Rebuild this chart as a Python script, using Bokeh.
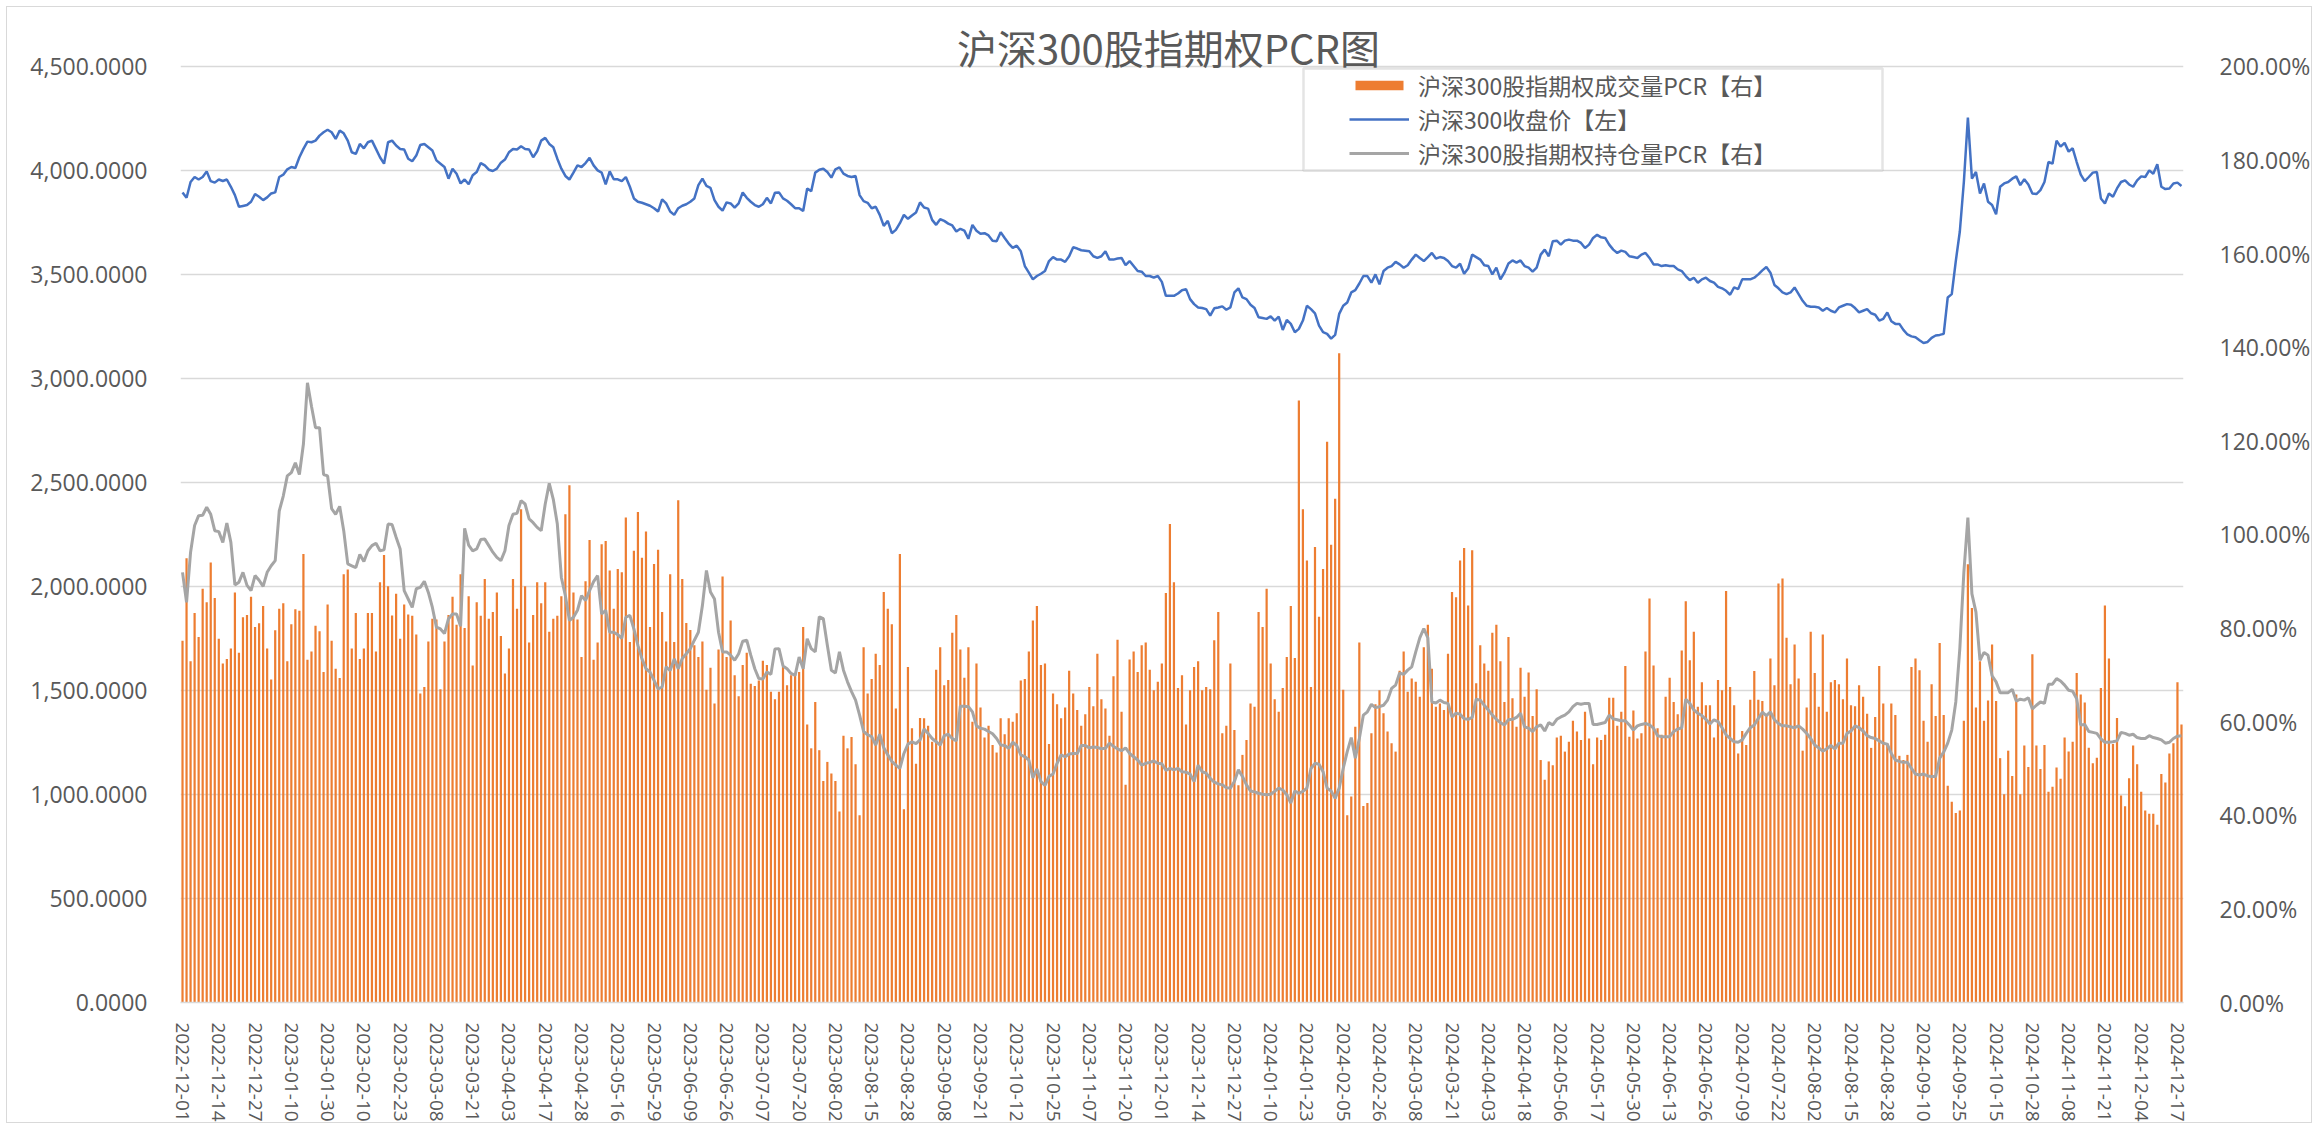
from bokeh.plotting import figure
from bokeh.models import (Range1d, LinearAxis, FixedTicker, NumeralTickFormatter,
                          Legend, LegendItem, ColumnDataSource, Label, BoxAnnotation)
from bokeh.embed import file_html
from bokeh.resources import INLINE

# ---------------- data ----------------
tick_labels = [
    "2022-12-01", "2022-12-14", "2022-12-27", "2023-01-10", "2023-01-30", "2023-02-10",
    "2023-02-23", "2023-03-08", "2023-03-21", "2023-04-03", "2023-04-17", "2023-04-28",
    "2023-05-16", "2023-05-29", "2023-06-09", "2023-06-26", "2023-07-07", "2023-07-20",
    "2023-08-02", "2023-08-15", "2023-08-28", "2023-09-08", "2023-09-21", "2023-10-12",
    "2023-10-25", "2023-11-07", "2023-11-20", "2023-12-01", "2023-12-14", "2023-12-27",
    "2024-01-10", "2024-01-23", "2024-02-05", "2024-02-26", "2024-03-08", "2024-03-21",
    "2024-04-03", "2024-04-18", "2024-05-06", "2024-05-17", "2024-05-30", "2024-06-13",
    "2024-06-26", "2024-07-09", "2024-07-22", "2024-08-02", "2024-08-15", "2024-08-28",
    "2024-09-10", "2024-09-25", "2024-10-15", "2024-10-28", "2024-11-08", "2024-11-21",
    "2024-12-04", "2024-12-17",
]
label_step = 9  # one label every 9 trading days

# 沪深300股指期权成交量PCR (%), right axis
volume_pcr = [
    77.3, 94.9, 72.9, 83.2, 78.1, 88.4, 85.5, 94.0, 86.4, 77.7,
    72.4, 73.4, 75.6, 87.6, 74.7, 82.3, 82.8, 86.7, 80.2, 81.0,
    84.7, 75.6, 69.0, 79.5, 84.1, 85.3, 72.9, 80.8, 84.0, 83.7,
    95.8, 73.2, 75.0, 80.5, 79.3, 70.6, 85.0, 77.3, 71.3, 69.3,
    91.5, 92.5, 75.6, 83.2, 73.4, 75.6, 83.2, 83.2, 75.0, 89.8,
    95.6, 88.9, 82.7, 87.3, 77.7, 85.0, 82.9, 82.6, 78.6, 66.0,
    67.4, 77.1, 82.0, 81.8, 66.9, 77.1, 82.8, 86.7, 80.7, 91.5,
    80.0, 86.8, 72.0, 85.5, 82.6, 90.5, 82.0, 83.4, 87.6, 78.3,
    70.3, 75.6, 90.5, 84.1, 105.4, 88.9, 76.9, 82.8, 89.8, 85.3,
    89.8, 79.2, 82.0, 82.6, 86.8, 104.3, 110.5, 87.6, 81.8, 73.8,
    90.0, 98.8, 73.2, 76.9, 97.9, 98.6, 92.3, 84.1, 92.6, 91.9,
    103.6, 77.0, 96.5, 104.8, 95.0, 100.6, 80.2, 93.7, 96.7, 83.4,
    77.1, 91.5, 77.0, 107.3,
    90.5, 81.1, 79.6, 76.3, 73.8, 77.1, 66.8, 71.5, 63.9, 75.4,
    91.0, 73.8, 81.6, 69.9, 65.4, 72.1, 74.7, 68.1, 67.6, 68.8,
    73.0, 72.1, 66.4, 64.8, 66.4, 71.7, 67.8, 69.9, 70.3, 70.6,
    80.2, 59.4, 54.3, 64.2, 53.9, 47.3, 51.4, 48.9, 47.3, 40.8,
    57.0, 54.3, 56.7, 50.9, 40.0, 75.9, 66.0, 69.1, 74.5, 72.1,
    87.7, 84.1, 80.8, 62.8, 95.8, 41.3, 71.7, 58.6, 51.0, 60.8,
    60.7, 59.1, 55.7, 71.1, 75.9, 67.8, 68.9, 79.0, 82.8, 75.4,
    69.4, 75.9, 60.0, 72.4, 63.0, 56.6, 59.1, 55.0, 53.4, 60.7,
    57.3, 60.7, 60.0, 61.8, 68.8, 69.1, 75.0, 81.6, 84.7, 72.1,
    72.4, 55.2, 66.0, 63.7, 60.7, 63.0, 70.9, 66.0, 62.5, 59.1,
    61.6, 67.4, 63.3, 74.5, 64.8, 62.8, 57.0, 69.7, 77.5, 62.1,
    46.5, 73.3, 75.0, 70.6, 76.3, 76.9, 71.1, 66.7, 68.5, 72.4,
    87.5, 102.2, 89.8, 67.2,
    69.9, 59.4, 66.7, 71.7, 72.9, 66.7, 67.4, 66.9, 77.4, 83.4,
    57.5, 59.1, 72.4, 58.2, 46.4, 52.9, 56.1, 63.9, 63.2, 83.4,
    80.2, 88.4, 72.4, 64.8, 62.1, 67.2, 73.8, 84.7, 73.6, 128.6,
    105.4, 94.4, 67.4, 97.3, 82.4, 92.6, 119.8, 97.8, 107.6, 138.7,
    66.8, 40.0, 44.0, 58.9, 76.9, 42.0, 42.6, 57.5, 63.7, 66.7,
    61.8, 57.9, 55.4, 53.6, 70.9, 75.0, 66.4, 69.2, 68.5, 65.3,
    75.9, 80.7, 71.3, 63.2, 63.9, 62.5, 74.5, 87.7, 86.6, 94.4,
    97.1, 84.8, 96.6, 68.2, 76.3, 72.4, 70.9, 79.0, 80.7, 72.9,
    64.2, 78.1, 65.0, 58.9, 71.5, 65.3, 70.5, 61.2, 66.9, 51.8,
    47.6, 51.5, 50.7, 56.6, 57.0, 53.6, 55.7, 60.2, 57.9, 56.1,
    62.1, 56.4, 50.9, 56.6, 56.1, 57.2, 65.1, 65.1, 59.1, 62.1,
    71.9, 56.8, 62.4, 56.4, 57.5, 75.0, 86.3, 72.0, 58.6, 57.2,
    65.3, 69.4, 64.2, 61.6,
    75.2, 85.7, 73.1, 79.2, 63.2, 68.4, 63.5, 63.5, 56.6, 68.9,
    66.7, 87.9, 67.4, 63.5, 53.2, 58.0, 55.0, 64.7, 70.8, 64.7,
    64.4, 61.5, 73.5, 67.8, 89.5, 90.6, 77.9, 68.0, 76.5, 69.2,
    53.8, 63.0, 79.2, 70.4, 63.2, 78.6, 62.1, 68.4, 68.9, 68.0,
    64.8, 73.5, 63.5, 63.3, 67.8, 65.3, 61.7, 54.4, 61.0, 71.9,
    63.9, 55.4, 63.9, 61.4, 52.7, 51.8, 52.9, 71.7, 73.5, 71.0,
    60.2, 55.7, 68.0, 61.2, 76.8, 61.4, 46.3, 42.9, 40.5, 41.0,
    60.2, 93.6, 84.3, 63.0, 72.9, 60.2, 64.5, 76.5, 64.4, 52.2,
    44.5, 53.8, 48.4, 65.8, 44.5, 54.9, 50.3, 74.4, 54.9, 49.9,
    55.0, 45.0, 46.1, 50.2, 47.8, 56.6, 53.6, 55.7, 70.4, 65.8,
    64.1, 54.4, 51.1, 52.3, 67.2, 84.8, 73.5, 55.2, 60.8, 44.2,
    41.9, 47.9, 54.9, 50.9, 45.0, 41.0, 40.3, 40.3, 38.0, 48.8,
    47.0, 53.2, 55.4, 68.4, 59.4,
]

# 沪深300收盘价, left axis
close_price = [
    3894, 3868, 3944, 3968, 3956, 3968, 3995, 3948, 3941,
    3956, 3949, 3956, 3921, 3881, 3825, 3829, 3833, 3849,
    3886, 3873, 3857, 3870, 3889, 3894, 3968, 3979, 4005,
    4016, 4011, 4063, 4103, 4138, 4135, 4143, 4167, 4183,
    4195, 4183, 4151, 4191, 4178, 4143, 4087, 4079, 4127,
    4106, 4135, 4143, 4103, 4063, 4032, 4135, 4143, 4119,
    4103, 4100, 4056, 4044, 4071, 4122, 4127, 4111, 4095,
    4048, 4032, 4016, 3960, 4008, 3984, 3937, 3956, 3933,
    3976, 3992, 4035, 4024, 4003, 3997, 4008, 4037, 4052,
    4087, 4103, 4100, 4116, 4103, 4100, 4063, 4092, 4143,
    4156, 4127, 4111, 4056, 4008, 3973, 3956, 3989, 4024,
    4016, 4035, 4060, 4024, 4000, 3989, 3933, 3995, 3957,
    3957, 3948, 3968, 3921, 3865, 3849, 3844, 3837, 3830,
    3818, 3802, 3860, 3841, 3802, 3786, 3818, 3830, 3837,
    3849, 3865, 3929, 3960, 3925, 3916, 3857, 3825, 3806,
    3846, 3841, 3821, 3841, 3894, 3868, 3849, 3833, 3825,
    3837, 3868, 3841, 3892, 3894, 3865, 3854, 3837, 3818,
    3818, 3805, 3913, 3900, 3989, 4003, 4008, 3992, 3965,
    4005, 4014, 3984, 3973, 3968, 3973, 3881, 3852, 3844,
    3818, 3825, 3786, 3733, 3757, 3698, 3714, 3746, 3786,
    3767, 3783, 3797, 3846, 3821, 3816, 3762, 3738, 3765,
    3757, 3744, 3735, 3706, 3719, 3710, 3671, 3738, 3710,
    3695, 3698, 3687, 3662, 3659, 3703, 3675, 3648, 3627,
    3638, 3611, 3540, 3508, 3476, 3492, 3503, 3516, 3564, 3583,
    3571, 3571, 3560, 3587, 3630, 3624, 3616, 3614, 3611, 3587,
    3579, 3587, 3611, 3571, 3571, 3576, 3579, 3544, 3564, 3540,
    3516, 3513, 3492, 3492, 3484, 3492, 3464, 3397, 3397, 3397,
    3408, 3424,
    3429, 3381, 3357, 3341, 3338, 3333, 3302, 3337, 3341, 3346,
    3330, 3341, 3413, 3433, 3389, 3381, 3354, 3338, 3294, 3290,
    3286, 3298, 3278, 3297, 3233, 3281, 3262, 3222, 3238,
    3278, 3349, 3333, 3313, 3254, 3222, 3214, 3191, 3209, 3310,
    3349, 3365, 3413, 3424, 3456, 3492, 3492, 3460, 3500, 3452,
    3516, 3532, 3540, 3560, 3548, 3532, 3544, 3571, 3595, 3579,
    3564, 3583, 3603, 3576, 3583, 3579, 3564, 3540, 3532, 3551,
    3503, 3528, 3595, 3583, 3571, 3544, 3540, 3500, 3532, 3476,
    3508, 3552, 3567, 3556, 3567, 3540, 3532, 3513, 3532, 3595,
    3619, 3587, 3659, 3662, 3643, 3662, 3667, 3662, 3662, 3651,
    3627, 3643, 3675, 3690, 3678, 3675, 3643, 3619, 3603, 3614,
    3608, 3587, 3583, 3579, 3595, 3603, 3579, 3548, 3548,
    3540, 3544, 3540, 3540, 3524, 3516, 3492, 3472, 3484, 3460,
    3476, 3484, 3468, 3460, 3440, 3433, 3421, 3402, 3437, 3429,
    3476, 3476, 3476, 3484, 3500, 3519, 3535, 3508, 3449, 3433,
    3413, 3405, 3413, 3437, 3405, 3373, 3349, 3344, 3344,
    3341, 3325, 3338, 3325, 3317, 3341, 3349, 3357, 3354, 3338,
    3317, 3325, 3333, 3313, 3306, 3278, 3286, 3317, 3275, 3262,
    3262, 3233, 3211, 3202, 3198, 3183, 3170, 3175, 3195, 3206,
    3209, 3214, 3389, 3405, 3564, 3706, 3944, 4254, 3960, 3992,
    3889, 3937, 3849, 3833, 3789, 3921, 3937, 3944, 3960, 3971,
    3929, 3957, 3932, 3889, 3886, 3905, 3944, 4040, 4032,
    4143, 4114, 4132, 4090, 4106, 4040, 3979, 3948, 3968, 3989,
    3992, 3865, 3841, 3889, 3873, 3913, 3944, 3952, 3932,
    3921, 3952, 3971, 3968, 4000, 3984, 4029, 3921, 3910, 3913,
    3937, 3941, 3925,
]

# 沪深300股指期权持仓量PCR (%), right axis
oi_pcr = [
    91.9, 85.5, 96.2, 101.9, 104.0, 104.1, 105.8, 104.3, 100.8, 100.6,
    98.3, 102.4, 98.3, 89.2, 89.8, 91.9, 89.1, 88.0, 91.2, 90.2,
    88.9, 91.9, 93.3, 94.4, 105.0, 108.2, 112.5, 113.2, 115.3, 112.8,
    119.3, 132.4, 127.4, 122.8, 122.8, 112.8, 112.5, 105.5, 104.3, 106.0,
    100.8, 93.7, 93.3, 92.9, 95.7, 94.2, 96.5, 97.6, 98.1, 96.5,
    96.7, 102.2, 102.1, 99.4, 96.9, 88.0, 86.2, 84.4, 88.4, 88.7,
    90.0, 87.6, 84.4, 80.2, 79.8, 78.8, 82.0, 83.0, 83.0, 80.4,
    101.3, 97.7, 96.5, 96.9, 98.9, 99.0, 97.6, 96.2, 95.1, 94.4,
    96.5, 101.9, 104.3, 104.5, 107.2, 106.5, 103.3, 102.5, 101.5, 100.8,
    106.5, 110.9, 107.5, 102.2, 90.8, 86.9, 81.6, 82.3, 83.8, 86.9,
    85.9, 88.0, 89.9, 91.2, 83.0, 83.8, 79.1, 79.1, 78.6, 77.8,
    82.3, 82.7, 79.8, 76.3, 73.4, 71.3, 70.6, 68.8, 67.0, 67.4,
    71.7, 70.9, 73.4, 71.3,
    73.5, 74.5, 75.6, 77.4, 79.1, 84.8, 92.3, 87.7, 86.2, 79.1,
    74.9, 74.9, 74.2, 73.1, 74.5, 77.2, 77.4, 74.2, 71.3, 69.2,
    69.1, 70.6, 70.1, 75.5, 75.6, 71.9, 71.3, 70.3, 69.9, 73.8,
    71.3, 77.7, 75.6, 74.9, 82.4, 82.0, 76.3, 71.0, 70.4, 74.9,
    71.0, 68.5, 66.4, 64.6, 61.4, 57.9, 57.2, 56.8, 55.0, 57.3,
    54.4, 52.9, 51.5, 50.7, 50.0, 53.2, 55.2, 55.7, 55.3, 56.1,
    58.4, 57.5, 56.4, 55.7, 55.0, 57.0, 57.3, 56.4, 55.9, 63.3,
    63.3, 63.2, 62.1, 59.1, 58.6, 58.4, 57.9, 57.4, 56.4, 55.0,
    54.9, 54.3, 55.6, 54.9, 52.9, 52.5, 51.8, 48.0, 49.9, 47.2,
    46.4, 48.3, 48.8, 51.1, 52.9, 52.5, 53.1, 53.2, 53.2, 54.9,
    54.9, 54.4, 54.6, 54.5, 54.2, 54.3, 55.4, 54.7, 54.2, 53.8,
    54.4, 53.2, 52.5, 51.8, 50.7, 51.1, 51.3, 51.6, 51.1, 51.0,
    49.6, 50.0, 49.7, 50.0,
    49.3, 49.2, 48.8, 47.2, 50.7, 49.3, 49.0, 47.9, 47.1, 46.7,
    46.5, 45.9, 45.8, 47.2, 49.7, 48.3, 46.5, 45.2, 45.0, 44.7,
    44.5, 44.4, 44.5, 45.1, 45.8, 45.4, 44.4, 42.6, 45.2, 44.7,
    45.1, 45.8, 50.0, 51.1, 50.9, 49.3, 45.8, 45.2, 43.6, 45.8,
    50.0, 53.6, 56.6, 52.2, 56.4, 61.4, 62.1, 63.7, 63.0, 63.2,
    63.5, 64.6, 67.1, 67.8, 70.4, 70.1, 71.0, 71.7, 74.9, 77.9,
    79.9, 77.9, 64.2, 64.0, 64.6, 64.1, 63.9, 61.0, 61.8, 61.6,
    60.6, 60.5, 60.9, 64.8, 64.6, 63.5, 62.5, 61.4, 60.5, 59.8,
    59.3, 60.4, 60.5, 60.9, 61.8, 58.9, 58.6, 57.9, 58.9, 59.3,
    58.0, 59.8, 59.3, 60.5, 61.0, 61.4, 62.1, 63.2, 63.9, 63.7,
    63.9, 63.9, 59.4, 59.4, 59.6, 59.8, 61.4, 60.6, 60.4, 60.2,
    60.2, 59.3, 58.2, 59.1, 59.4, 59.6, 59.3, 58.6, 57.0, 56.8,
    56.8, 56.8, 57.9, 58.4,
    58.7, 64.8, 63.9, 62.5, 61.8, 61.3, 60.5, 59.5, 60.4, 60.0,
    58.7, 57.2, 56.4, 55.7, 55.6, 56.1, 57.5, 58.7, 59.3, 60.7,
    62.0, 61.3, 62.1, 60.4, 59.6, 59.1, 59.1, 58.9, 58.7, 59.1,
    58.4, 57.5, 56.4, 55.0, 54.4, 53.7, 54.2, 54.9, 54.2, 55.4,
    55.4, 57.5, 58.0, 59.1, 58.7, 58.0, 57.0, 56.6, 56.4, 55.9,
    55.4, 55.2, 53.2, 51.8, 51.5, 51.3, 51.3, 50.0, 48.8, 48.6,
    48.8, 48.4, 48.3, 48.3, 52.2, 53.5, 55.4, 58.2, 64.2, 75.6,
    91.9, 103.6, 87.3, 83.4, 73.1, 74.8, 74.2, 69.8, 68.5, 66.2,
    66.2, 66.2, 66.9, 64.4, 64.8, 64.6, 65.1, 62.7, 63.5, 64.2,
    63.9, 68.0, 68.0, 69.2, 68.7, 67.8, 66.7, 66.5, 64.9, 59.3,
    59.4, 57.9, 57.7, 57.5, 56.3, 55.6, 55.6, 55.7, 55.9, 57.7,
    57.5, 57.1, 57.3, 56.6, 56.4, 56.4, 57.0, 56.6, 56.4, 56.1,
    55.4, 55.6, 56.4, 56.9, 57.0,
]

series_names = ["沪深300股指期权成交量PCR【右】", "沪深300收盘价【左】", "沪深300股指期权持仓量PCR【右】"]
title_text = "沪深300股指期权PCR图"
left_max, left_step = 4500, 500
right_max, right_step = 2.0, 0.2

# ---------------- layout (pixels) ----------------
n = len(volume_pcr)
MARGIN_L, MARGIN_T = 6, 6          # css margin of the chart box
W, H = 2306, 1117                  # canvas size
CANVAS_X0, CANVAS_Y0 = MARGIN_L + 1, MARGIN_T + 1   # after 1px border
FRAME_L, FRAME_R, PLOT_T, FRAME_B = 180, 2187, 66, 1005
B_LEFT = FRAME_L - CANVAS_X0
B_RIGHT = CANVAS_X0 + W - FRAME_R
B_BOTTOM = CANVAS_Y0 + H - FRAME_B
frame_h = H - B_BOTTOM                      # frame starts at canvas top
plot_h = FRAME_B - PLOT_T                   # height of 0..4500
top_factor = frame_h / plot_h               # extra room above 4500 for title

TXT = "#595959"
GRID = "#D9D9D9"
NUM_FONT = "Open Sans"
CJK_FONT = "Noto Sans CJK SC"

p = figure(width=W, height=H, output_backend="svg", toolbar_location=None,
           x_range=Range1d(-0.5, n - 0.5),
           y_range=Range1d(0, left_max * top_factor),
           min_border_left=B_LEFT, min_border_right=B_RIGHT,
           min_border_top=0, min_border_bottom=B_BOTTOM)
p.styles = {"border": "1px solid #D9D9D9",
            "margin-left": f"{MARGIN_L}px", "margin-top": f"{MARGIN_T}px"}
p.extra_y_ranges = {"pct": Range1d(0, right_max * top_factor)}
p.outline_line_color = None
p.background_fill_color = "white"
p.border_fill_color = "white"

bar_src = ColumnDataSource(dict(x=list(range(len(volume_pcr))),
                                y=[v / 100.0 for v in volume_pcr]))
close_src = ColumnDataSource(dict(x=list(range(len(close_price))), y=close_price))
oi_src = ColumnDataSource(dict(x=list(range(len(oi_pcr))),
                               y=[v / 100.0 for v in oi_pcr]))

r_bar = p.vbar(x="x", top="y", width=0.55, source=bar_src, y_range_name="pct",
               fill_color="#ED7D31", line_color=None)
r_oi = p.line(x="x", y="y", source=oi_src, y_range_name="pct",
              line_color="#A5A5A5", line_width=3)
r_close = p.line(x="x", y="y", source=close_src, line_color="#4472C4", line_width=2.5)

# left axis
ly = p.yaxis[0]
ly.ticker = FixedTicker(ticks=list(range(0, left_max + 1, left_step)))
ly.formatter = NumeralTickFormatter(format="0,0.0000")
ly.axis_line_color = None
ly.major_tick_line_color = None
ly.minor_tick_line_color = None
ly.major_label_text_font = NUM_FONT
ly.major_label_text_font_size = "23px"
ly.major_label_text_color = TXT
ly.major_label_standoff = 27

# right axis
ry = LinearAxis(y_range_name="pct",
                ticker=FixedTicker(ticks=[round(i * right_step, 2) for i in range(11)]),
                formatter=NumeralTickFormatter(format="0.00%"))
ry.axis_line_color = None
ry.major_tick_line_color = None
ry.minor_tick_line_color = None
ry.major_label_text_font = NUM_FONT
ry.major_label_text_font_size = "23px"
ry.major_label_text_color = TXT
ry.major_label_standoff = 30
p.add_layout(ry, "right")

# bottom axis
bx = p.xaxis[0]
tick_pos = [i * label_step for i in range(len(tick_labels))]
bx.ticker = FixedTicker(ticks=tick_pos)
bx.major_label_overrides = {t: lab for t, lab in zip(tick_pos, tick_labels)}
bx.major_label_orientation = "vertical"
bx.major_label_text_font = NUM_FONT
bx.major_label_text_font_size = "19px"
bx.major_label_text_color = TXT
bx.major_label_standoff = 14
bx.major_tick_line_color = None
bx.minor_tick_line_color = None
bx.axis_line_color = GRID
bx.axis_line_width = 1.5

p.xgrid.grid_line_color = None
p.ygrid.grid_line_color = GRID
p.ygrid.grid_line_width = 1.5

# title (screen units, measured from the frame's bottom-left)
title_cx, title_cy = 1168, 49
p.add_layout(Label(x=title_cx - FRAME_L, y=FRAME_B - title_cy,
                   x_units="screen", y_units="screen", text=title_text,
                   text_align="center", text_baseline="middle",
                   text_font=CJK_FONT, text_font_size="40px", text_color=TXT))

# legend frame (drawn separately so the glyphs can sit inset like the reference)
box_l, box_r, box_t, box_b = 1303, 1882, 71, 173
p.add_layout(BoxAnnotation(left=box_l - FRAME_L, right=box_r - FRAME_L,
                           top=FRAME_B - box_t, bottom=FRAME_B - box_b,
                           left_units="screen", right_units="screen",
                           top_units="screen", bottom_units="screen",
                           fill_color="white", fill_alpha=1.0,
                           line_color="#A6A6A6", line_width=2.5))

pad = 2
glyph_l, text_l = 1351, 1420
glyph_w = 60
legend = Legend(items=[LegendItem(label=series_names[0], renderers=[r_bar]),
                       LegendItem(label=series_names[1], renderers=[r_close]),
                       LegendItem(label=series_names[2], renderers=[r_oi])],
                location=(glyph_l - pad - FRAME_L, FRAME_B - box_b))
legend.label_text_font = CJK_FONT
legend.label_text_font_size = "23px"
legend.label_text_color = TXT
legend.glyph_width = glyph_w
legend.glyph_height = 12
legend.label_standoff = text_l - glyph_l - glyph_w
legend.label_height = 26
legend.padding = pad
legend.spacing = 0
legend.margin = 0
legend.border_line_color = None
legend.background_fill_alpha = 0.0
p.add_layout(legend)

open("out.html", "w").write(file_html(p, INLINE))
